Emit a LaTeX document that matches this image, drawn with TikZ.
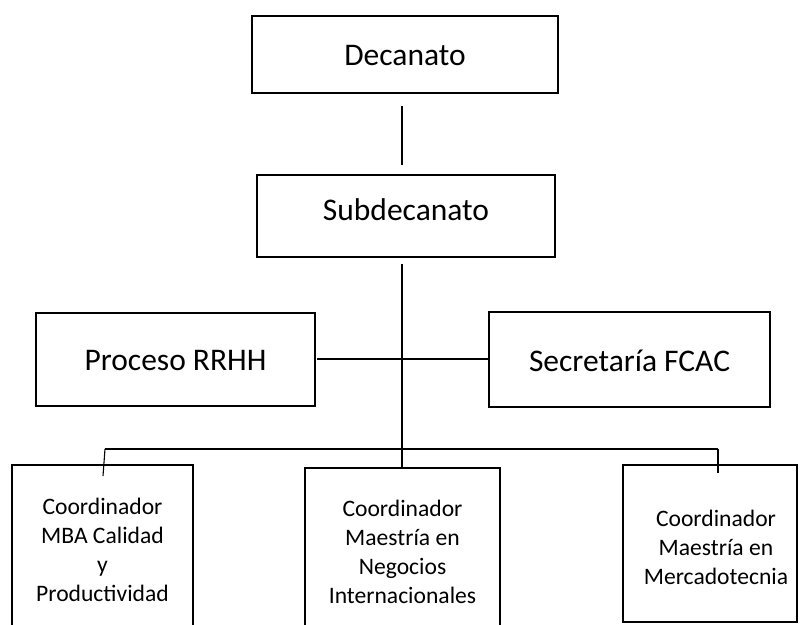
\documentclass[tikz,border=0pt]{standalone}
\usepackage{fontspec}
\setmainfont{Carlito}
\begin{document}
\begin{tikzpicture}[x=1pt,y=1pt,
  box/.style={draw=black, line width=2.2pt, inner sep=0pt},
  bigtxt/.style={font=\fontsize{31.5}{38}\selectfont, inner sep=0pt},
  smalltxt/.style={font=\fontsize{23.6}{29}\selectfont, align=center, inner sep=0pt},
  conn/.style={draw=black, line width=1.1pt}]
\useasboundingbox (0,0) rectangle (800,-624);
% top boxes
\node[box, minimum width=306, minimum height=77] (dec) at (405,-54.5) {};
\node[bigtxt] (decT) at (405,-56) {Decanato};
\node[box, minimum width=298, minimum height=82] (sub) at (406,-216) {};
\node[bigtxt] (subT) at (406,-210) {Subdecanato};
\node[box, minimum width=279, minimum height=93] (rrhh) at (175.5,-359.5) {};
\node[bigtxt] (rrhhT) at (175.5,-361) {Proceso RRHH};
\node[box, line width=1.8pt, minimum width=281, minimum height=95] (sec) at (629.5,-359.5) {};
\node[bigtxt] (secT) at (629.5,-361) {Secretaría FCAC};
% bottom boxes
\node[box, minimum width=181, minimum height=175] (c1) at (102.5,-552.5) {};
\node[smalltxt] (c1T) at (102.5,-550) {Coordinador\\MBA Calidad\\y\\Productividad};
\node[box, minimum width=195, minimum height=172] (c2) at (402.5,-554) {};
\node[smalltxt] (c2T) at (402.5,-552) {Coordinador\\Maestría en\\Negocios\\Internacionales};
\node[box, line width=1.8pt, minimum width=174, minimum height=157] (c3) at (710,-543.5) {};
\node[smalltxt] (c3T) at (716,-547) {Coordinador\\Maestría en\\Mercadotecnia};
% connector points
\coordinate (d1) at (402,-106);
\coordinate (d2) at (402,-165);
\coordinate (s1) at (402,-264);
\coordinate (s2) at (402,-468);
\coordinate (hl) at (317,-359);
\coordinate (hr) at (489,-359);
\coordinate (bl) at (105,-449);
\coordinate (br) at (718,-449);
\coordinate (blt) at (103,-476);
\coordinate (brt) at (718,-473);
% connectors
\draw[conn] (d1) -- (d2);
\draw[conn] (s1) -- (s2);
\draw[conn] (hl) -- (hr);
\draw[conn] (bl) -- (br);
\draw[conn] (bl) -- (blt);
\draw[conn] (br) -- (brt);
\end{tikzpicture}
\end{document}
